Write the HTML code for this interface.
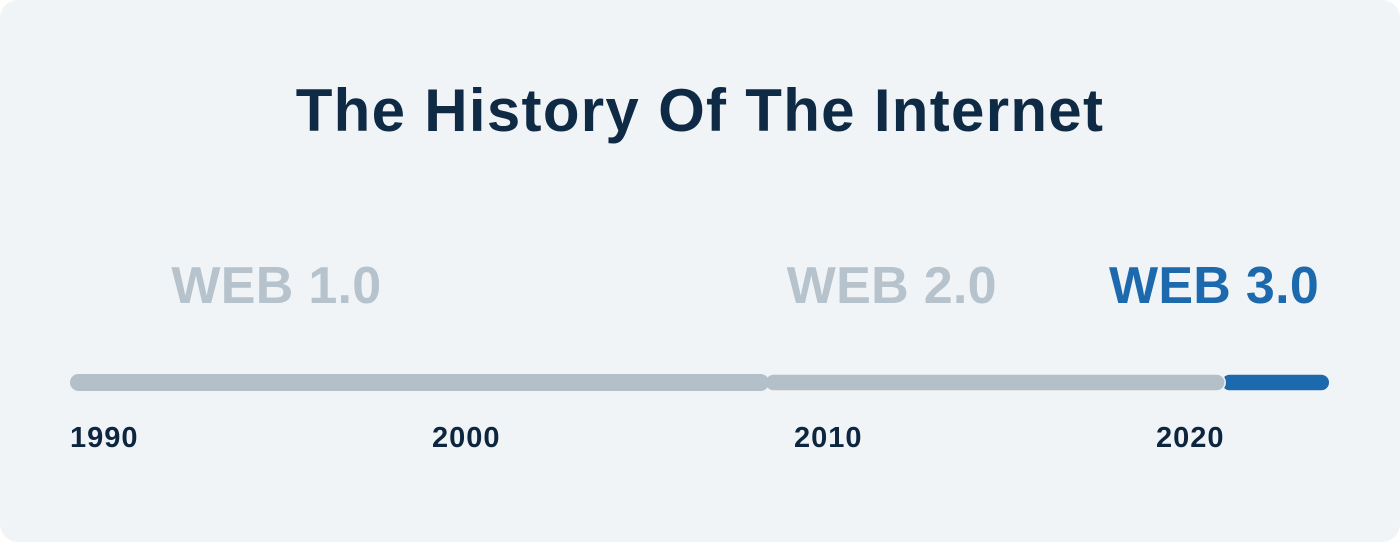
<!DOCTYPE html>
<html><head><meta charset="utf-8"><style>
html,body{margin:0;padding:0;background:#fff;}
body{width:1400px;height:542px;overflow:hidden;font-family:"Liberation Sans",sans-serif;}
#card{position:absolute;left:0;top:0;width:1400px;height:542px;background:#f1f4f6;border-radius:18px;}
</style></head><body>
<div id="card">
<svg id="chart" width="1400" height="542"></svg>
</div>
<script>
const eraLabels = ["WEB 1.0", "WEB 2.0", "WEB 3.0"];
const eraStarts = [1990, 2009.2, 2021.8];
const eraEnd = 2024.8;
const eraLabelYears = [1992.8, 2009.8, 2018.7];
const tickYears = [1990, 2000, 2010, 2020];
const tickLabels = ["1990", "2000", "2010", "2020"];
const activeEra = 2;

const NS = "http://www.w3.org/2000/svg";
const svg = document.getElementById("chart");
const x = y => 70 + (y - 1990) * 36.2;
function mk(tag, attrs, text){
  const e = document.createElementNS(NS, tag);
  for (const k in attrs) e.setAttribute(k, attrs[k]);
  if (text !== undefined) e.textContent = text;
  svg.appendChild(e);
  return e;
}
const title = mk("text",{x:700,y:131,"text-anchor":"middle","font-size":"60","font-weight":"bold",fill:"#0f2a44","letter-spacing":"1.3"},"The History Of The Internet");



for (let i = eraStarts.length - 1; i >= 0; i--) {
  const x0 = x(eraStarts[i]);
  const x1 = i < eraStarts.length - 1 ? x(eraStarts[i+1]) + 4 : x(eraEnd);
  const seg = mk("rect",{x:x0,y:374,width:x1-x0,height:17,rx:8.5,fill:i===activeEra?"#1d69ad":"#b3c0c9",stroke:i===0?"none":"#f1f4f6","stroke-width":i===0?0:1.5});
  
  
}
for (let i = 0; i < eraLabels.length; i++) {
  const t = mk("text",{x:x(eraLabelYears[i]),y:303,"text-anchor":"start","font-size":"52","font-weight":"bold",fill:i===activeEra?"#1d69ad":"#b6c2cc","letter-spacing":"0.3"},eraLabels[i]);
  
  
}
for (let i = 0; i < tickYears.length; i++) {
  const t = mk("text",{x:x(tickYears[i]),y:447,"font-size":"29","font-weight":"bold",fill:"#0d2640","letter-spacing":"1"},tickLabels[i]);
  
  
}
</script>
</body></html>
